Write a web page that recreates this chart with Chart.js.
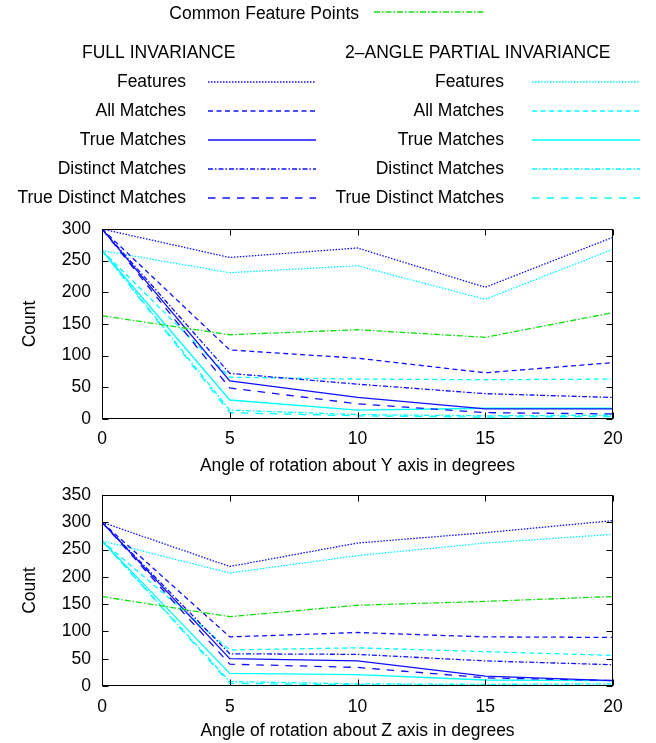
<!DOCTYPE html>
<html lang="en">
<head>
    <meta charset="UTF-8">
    <title>Count vs angle of rotation</title>
    <script src="https://cdn.jsdelivr.net/npm/chart.js"></script>
    <style>
        body { margin: 0; background: #fff; width: 656px; height: 743px; position: relative; overflow: hidden; }
        canvas { position: absolute; left: 0; }
        #legend { top: 0; }
        #chartY { top: 215px; }
        #chartZ { top: 480px; }
    </style>
</head>
<body>
    <canvas id="legend" width="656" height="215"></canvas>
    <canvas id="chartY" width="656" height="265"></canvas>
    <canvas id="chartZ" width="656" height="263"></canvas>

    <script>
        // angles (x axis)
        const angles = [0, 5, 10, 15, 20];
        const seriesNames = ['Features', 'All Matches', 'True Matches', 'Distinct Matches', 'True Distinct Matches'];

        // rotation about Y axis
        const yCommon = [163, 133, 141, 129, 168];
        const yFullFeatures = [300, 255, 270, 208, 287];
        const yFullAll = [300, 109, 96, 73, 89];
        const yFullTrue = [300, 60, 34, 16, 16];
        const yFullDistinct = [300, 72, 55, 40, 34];
        const yFullTrueDistinct = [300, 49, 24, 10, 8];
        const yPartFeatures = [266, 231, 242, 189, 268];
        const yPartAll = [266, 66, 63, 62, 63];
        const yPartTrue = [266, 30, 14, 17, 17];
        const yPartDistinct = [266, 14, 7, 5, 6];
        const yPartTrueDistinct = [266, 10, 5, 3, 4];

        // rotation about Z axis
        const zCommon = [164, 127, 148, 155, 164];
        const zFullFeatures = [300, 219, 262, 281, 303];
        const zFullAll = [300, 90, 98, 90, 89];
        const zFullTrue = [300, 50, 46, 18, 10];
        const zFullDistinct = [300, 59, 58, 46, 39];
        const zFullTrueDistinct = [300, 40, 34, 15, 10];
        const zPartFeatures = [266, 207, 239, 262, 278];
        const zPartAll = [266, 66, 70, 63, 56];
        const zPartTrue = [266, 23, 21, 11, 10];
        const zPartDistinct = [266, 8, 4, 3, 4];
        const zPartTrueDistinct = [266, 5, 2, 1, 1];

        const yTicks = [0, 50, 100, 150, 200, 250, 300];
        const zTicks = [0, 50, 100, 150, 200, 250, 300, 350];

        // line styles
        const FULL = '#1010ff';
        const PART = '#00ffff';
        const COMMON = '#10e010';
        const LW = 1.3;
        const dashes = [[1.5, 1.5], [5, 3.5], [], [5, 2, 1.5, 2], [7.5, 7]];
        const commonDash = [6, 2, 1.5, 2];
        const FONT = '"Liberation Sans", Arial, Helvetica, sans-serif';

        Chart.defaults.font.family = FONT;
        Chart.defaults.font.size = 17.5;
        Chart.defaults.color = '#000';

        function pts(vals) {
            return vals.map((v, i) => ({ x: angles[i], y: v }));
        }

        function ds(label, vals, color, dash) {
            return {
                label: label,
                data: pts(vals),
                borderColor: color,
                borderWidth: LW,
                borderDash: dash,
                pointRadius: 0,
                tension: 0,
                fill: false
            };
        }

        // box around the plot with inward ticks on all sides
        const framePlugin = {
            id: 'frame',
            afterDatasetsDraw(chart) {
                const ctx = chart.ctx;
                const a = chart.chartArea;
                const xs = chart.scales.x, ys = chart.scales.y;
                const L = Math.round(a.left) + 0.5, R = Math.round(a.right) - 0.5;
                const T = Math.round(a.top) + 0.5, B = Math.round(a.bottom) - 0.5;
                ctx.save();
                ctx.strokeStyle = '#000';
                ctx.lineWidth = 1;
                ctx.setLineDash([]);
                ctx.beginPath();
                xs.ticks.forEach(t => {
                    const px = Math.round(xs.getPixelForValue(t.value)) + 0.5;
                    ctx.moveTo(px, B); ctx.lineTo(px, B - 6);
                    ctx.moveTo(px, T); ctx.lineTo(px, T + 6);
                });
                ys.ticks.forEach(t => {
                    const py = Math.round(ys.getPixelForValue(t.value)) + 0.5;
                    ctx.moveTo(L, py); ctx.lineTo(L + 6, py);
                    ctx.moveTo(R, py); ctx.lineTo(R - 6, py);
                });
                ctx.stroke();
                ctx.strokeRect(L, T, R - L, B - T);
                ctx.restore();
            }
        };

        function makeChart(id, axisName, maxY, tickList, padTop, xHeight, tickPad, titlePad, sets) {
            const c = sets;
            return new Chart(document.getElementById(id), {
                type: 'line',
                data: {
                    datasets: [
                        ds('Common Feature Points', c[0], COMMON, commonDash),
                        ...seriesNames.map((n, i) => ds(n, c[1 + i], FULL, dashes[i])),
                        ...seriesNames.map((n, i) => ds(n, c[6 + i], PART, dashes[i]))
                    ]
                },
                options: {
                    responsive: false,
                    animation: false,
                    devicePixelRatio: 1,
                    layout: { padding: { top: padTop, right: 43, left: 0, bottom: 0 } },
                    plugins: { legend: { display: false }, tooltip: { enabled: false } },
                    scales: {
                        x: {
                            type: 'linear',
                            min: 0, max: 20,
                            grid: { display: false, drawTicks: false },
                            border: { display: false },
                            ticks: { stepSize: 5, padding: tickPad },
                            title: { display: true, text: 'Angle of rotation about ' + axisName + ' axis in degrees', padding: { top: 0, bottom: titlePad } },
                            afterFit(s) { s.height = xHeight; s.paddingLeft = 0; s.paddingRight = 0; }
                        },
                        y: {
                            min: 0, max: maxY,
                            grid: { display: false, drawTicks: false },
                            border: { display: false },
                            afterBuildTicks(s) { s.ticks = tickList.map(v => ({ value: v })); },
                            ticks: { padding: 11 },
                            title: { display: true, text: 'Count', padding: { top: 20, bottom: 0 } },
                            afterFit(s) { s.width = 102; s.paddingTop = 0; s.paddingBottom = 0; }
                        }
                    }
                },
                plugins: [framePlugin]
            });
        }

        makeChart('chartY', 'Y', 300, yTicks, 14, 61, 10, 3, [
            yCommon, yFullFeatures, yFullAll, yFullTrue, yFullDistinct, yFullTrueDistinct,
            yPartFeatures, yPartAll, yPartTrue, yPartDistinct, yPartTrueDistinct
        ]);
        makeChart('chartZ', 'Z', 350, zTicks, 15, 57, 11, 1, [
            zCommon, zFullFeatures, zFullAll, zFullTrue, zFullDistinct, zFullTrueDistinct,
            zPartFeatures, zPartAll, zPartTrue, zPartDistinct, zPartTrueDistinct
        ]);

        // shared key at the top
        (function drawLegend() {
            const ctx = document.getElementById('legend').getContext('2d');
            ctx.font = '17.5px ' + FONT;
            ctx.fillStyle = '#000';
            ctx.textBaseline = 'middle';

            function sample(x1, x2, y, color, dash) {
                ctx.save();
                ctx.strokeStyle = color;
                ctx.lineWidth = LW;
                ctx.setLineDash(dash);
                ctx.beginPath();
                ctx.moveTo(x1, y);
                ctx.lineTo(x2, y);
                ctx.stroke();
                ctx.restore();
            }

            ctx.textAlign = 'right';
            ctx.fillText('Common Feature Points', 359, 14);
            sample(374, 485, 12, COMMON, commonDash);

            ctx.textAlign = 'left';
            ctx.fillText('FULL INVARIANCE', 82, 53);
            ctx.fillText('2\u2013ANGLE PARTIAL INVARIANCE', 345, 53);

            ctx.textAlign = 'right';
            seriesNames.forEach((n, i) => {
                const y = 82 + i * 29;
                ctx.fillText(n, 186, y);
                sample(208, 316, y, FULL, dashes[i]);
                ctx.fillText(n, 504, y);
                sample(532, 640, y, PART, dashes[i]);
            });
        })();
    </script>
</body>
</html>
